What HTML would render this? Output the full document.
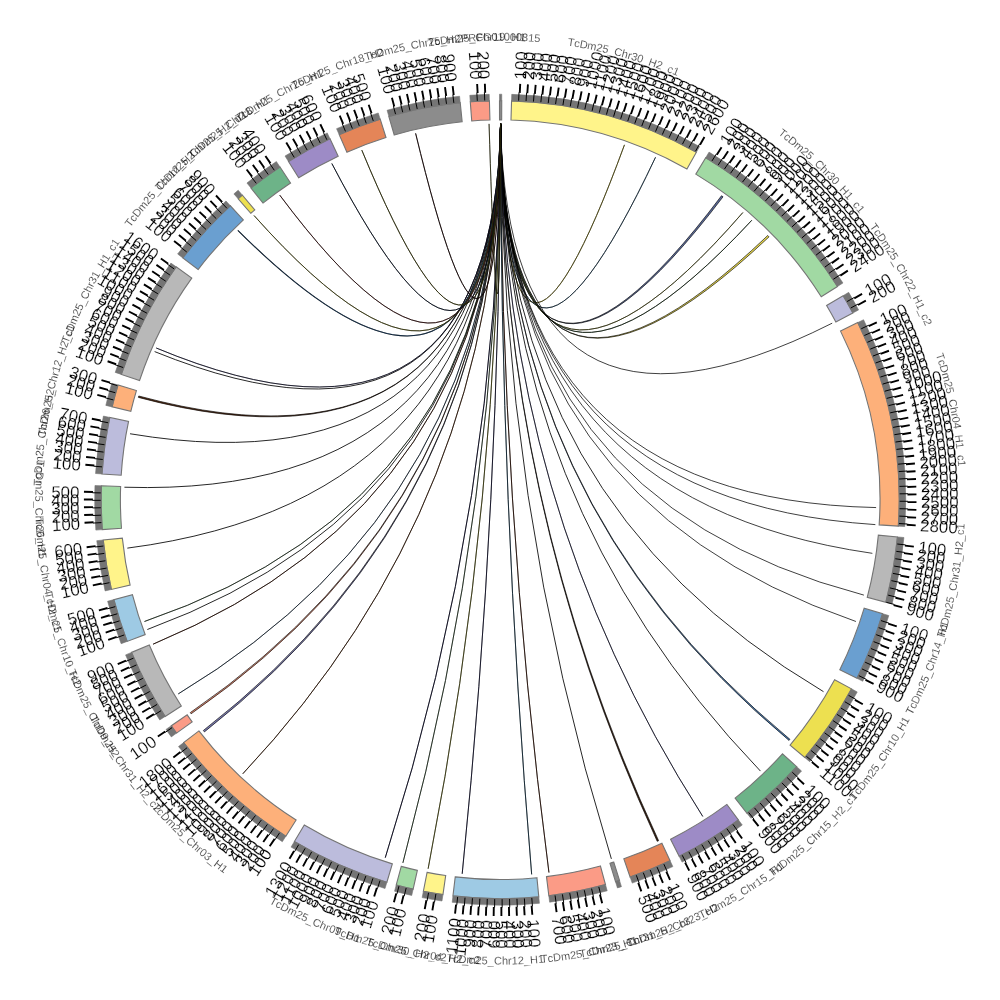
<!DOCTYPE html><html><head><meta charset="utf-8"><title>Circos plot</title><style>html,body{margin:0;padding:0;background:#fff}svg{display:block}.tl text{mix-blend-mode:multiply}</style></head><body><svg width="1000" height="1000" viewBox="0 0 1000 1000">
<rect width="1000" height="1000" fill="#fff"/>
<g fill="none" stroke-linecap="butt" stroke-linejoin="round">
<path d="M500.59 123.70Q505.10 470.95 624.47 144.83" stroke="#000" stroke-width="0.95"/>
<path d="M500.59 123.70Q505.10 470.95 624.47 144.83" stroke="#b5a82a" stroke-width="0.40"/>
<path d="M500.59 123.70Q505.64 474.59 655.53 157.28" stroke="#000" stroke-width="0.95"/>
<path d="M500.59 123.70Q505.64 474.59 655.53 157.28" stroke="#3d6a8a" stroke-width="0.40"/>
<path d="M500.59 123.70Q505.71 482.81 721.51 195.73L723.02 196.84Q505.69 483.01 500.59 123.70Z" fill="#5a6a9a" stroke="#000" stroke-width="0.65"/>
<path d="M500.59 123.70Q505.38 485.57 742.89 212.51" stroke="#000" stroke-width="0.95"/>
<path d="M500.59 123.70Q505.38 485.57 742.89 212.51" stroke="#8a8a3a" stroke-width="0.40"/>
<path d="M500.59 123.70Q505.62 485.60 751.79 220.28" stroke="#000" stroke-width="0.95"/>
<path d="M500.59 123.70Q505.62 485.60 751.79 220.28" stroke="#3a5a3a" stroke-width="0.40"/>
<path d="M500.59 123.70Q506.08 485.66 767.73 235.49L769.04 236.83Q506.11 485.66 500.59 123.70Z" fill="#e8d850" stroke="#000" stroke-width="0.65"/>
<path d="M500.59 123.70Q508.34 486.17 832.19 323.18" stroke="#000" stroke-width="0.75"/>
<path d="M500.59 123.70Q500.20 499.70 876.12 507.57" stroke="#000" stroke-width="0.75"/>
<path d="M500.59 123.70Q500.20 499.70 875.37 524.62" stroke="#000" stroke-width="0.75"/>
<path d="M500.59 123.70Q500.20 499.70 872.36 553.33" stroke="#000" stroke-width="0.75"/>
<path d="M500.59 123.70Q500.20 499.70 863.89 595.11" stroke="#000" stroke-width="0.75"/>
<path d="M500.59 123.70Q500.20 499.70 855.93 621.49" stroke="#000" stroke-width="0.75"/>
<path d="M500.59 123.70Q500.20 499.70 823.50 691.66" stroke="#000" stroke-width="0.85"/>
<path d="M500.59 123.70Q500.20 499.70 789.95 739.33L789.04 740.43Q500.20 499.70 500.59 123.70Z" fill="#4a7ab0" stroke="#000" stroke-width="0.65"/>
<path d="M500.59 123.70Q500.20 499.70 760.45 771.08" stroke="#000" stroke-width="0.85"/>
<path d="M500.59 123.70Q500.20 499.70 702.78 816.46" stroke="#000" stroke-width="0.85"/>
<path d="M500.59 123.70Q500.20 499.70 702.78 816.46" stroke="#1a1a4a" stroke-width="0.35"/>
<path d="M500.59 123.70Q500.20 499.70 658.61 840.70L657.21 841.35Q500.20 499.70 500.59 123.70Z" fill="#3a2010" stroke="#000" stroke-width="0.65"/>
<path d="M500.59 123.70Q500.20 499.70 611.39 858.88" stroke="#000" stroke-width="0.85"/>
<path d="M500.59 123.70Q500.20 499.70 548.95 872.53" stroke="#000" stroke-width="0.95"/>
<path d="M500.59 123.70Q500.20 499.70 548.95 872.53" stroke="#5a2a1a" stroke-width="0.40"/>
<path d="M500.59 123.70Q500.20 499.70 531.66 874.38" stroke="#000" stroke-width="0.95"/>
<path d="M500.59 123.70Q500.20 499.70 531.66 874.38" stroke="#2a5a7a" stroke-width="0.40"/>
<path d="M500.59 123.70Q500.20 499.70 462.20 873.78" stroke="#000" stroke-width="0.95"/>
<path d="M500.59 123.70Q500.20 499.70 462.20 873.78" stroke="#2a2a5a" stroke-width="0.40"/>
<path d="M500.59 123.70Q500.20 499.70 428.13 868.73" stroke="#000" stroke-width="0.95"/>
<path d="M500.59 123.70Q500.20 499.70 428.13 868.73" stroke="#8a8a2a" stroke-width="0.40"/>
<path d="M500.59 123.70Q500.20 499.70 402.88 862.89" stroke="#000" stroke-width="0.85"/>
<path d="M500.59 123.70Q500.20 499.70 402.88 862.89" stroke="#2a4a2a" stroke-width="0.35"/>
<path d="M500.59 123.70Q500.20 499.70 385.26 857.70" stroke="#000" stroke-width="0.95"/>
<path d="M500.59 123.70Q500.20 499.70 385.26 857.70" stroke="#1a1a4a" stroke-width="0.40"/>
<path d="M500.59 123.70Q500.20 499.70 242.81 773.79" stroke="#000" stroke-width="0.95"/>
<path d="M500.59 123.70Q500.20 499.70 242.81 773.79" stroke="#6a3a1a" stroke-width="0.40"/>
<path d="M500.59 123.70Q500.20 499.70 204.45 731.88L203.37 730.49Q500.20 499.70 500.59 123.70Z" fill="#7a7ab0" stroke="#000" stroke-width="0.65"/>
<path d="M500.59 123.70Q500.20 499.70 191.11 713.80L190.30 712.62Q500.20 499.70 500.59 123.70Z" fill="#e08a70" stroke="#000" stroke-width="0.65"/>
<path d="M500.59 123.70Q500.20 499.70 178.24 693.92" stroke="#000" stroke-width="0.85"/>
<path d="M500.59 123.70Q500.20 499.70 178.24 693.92" stroke="#1a3a5a" stroke-width="0.35"/>
<path d="M500.59 123.70Q500.20 499.70 153.07 644.20" stroke="#000" stroke-width="0.95"/>
<path d="M500.59 123.70Q500.20 499.70 153.07 644.20" stroke="#5a2a1a" stroke-width="0.40"/>
<path d="M500.59 123.70Q500.20 499.70 147.33 629.53" stroke="#000" stroke-width="0.85"/>
<path d="M500.59 123.70Q500.20 499.70 144.47 621.49" stroke="#000" stroke-width="0.85"/>
<path d="M500.59 123.70Q500.20 499.70 144.47 621.49" stroke="#2a4a2a" stroke-width="0.35"/>
<path d="M500.59 123.70Q500.20 499.70 127.33 548.13" stroke="#000" stroke-width="0.85"/>
<path d="M500.59 123.70Q499.13 498.59 124.41 487.23" stroke="#000" stroke-width="0.85"/>
<path d="M500.59 123.70Q496.34 495.09 130.03 433.76" stroke="#000" stroke-width="0.85"/>
<path d="M500.59 123.70Q494.71 492.43 138.39 397.38L138.78 396.00Q494.65 492.33 500.59 123.70Z" fill="#5a3018" stroke="#000" stroke-width="0.65"/>
<path d="M500.59 123.70Q492.97 488.72 154.61 351.58" stroke="#000" stroke-width="0.85"/>
<path d="M500.59 123.70Q492.85 488.41 156.18 347.97" stroke="#000" stroke-width="0.85"/>
<path d="M500.59 123.70Q492.85 488.41 156.18 347.97" stroke="#1a1a4a" stroke-width="0.35"/>
<path d="M500.59 123.70Q494.49 485.63 237.83 230.37" stroke="#000" stroke-width="1.05"/>
<path d="M500.59 123.70Q494.49 485.63 237.83 230.37" stroke="#2a5a8a" stroke-width="0.50"/>
<path d="M500.59 123.70Q494.94 485.57 254.02 215.50" stroke="#000" stroke-width="0.95"/>
<path d="M500.59 123.70Q494.94 485.57 254.02 215.50" stroke="#8a8a2a" stroke-width="0.40"/>
<path d="M500.59 123.70Q494.73 482.77 279.72 195.12" stroke="#000" stroke-width="0.95"/>
<path d="M500.59 123.70Q494.73 482.77 279.72 195.12" stroke="#6a2a2a" stroke-width="0.40"/>
<path d="M500.59 123.70Q494.66 476.23 331.84 163.50" stroke="#000" stroke-width="0.95"/>
<path d="M500.59 123.70Q494.66 476.23 331.84 163.50" stroke="#1a2a4a" stroke-width="0.40"/>
<path d="M500.59 123.70Q495.06 472.67 361.79 150.10" stroke="#000" stroke-width="0.95"/>
<path d="M500.59 123.70Q495.06 472.67 361.79 150.10" stroke="#6a6a1a" stroke-width="0.40"/>
<path d="M500.59 123.70Q496.66 468.46 415.62 133.34" stroke="#000" stroke-width="0.95"/>
<path d="M500.59 123.70Q496.66 468.46 415.62 133.34" stroke="#2a0a0a" stroke-width="0.40"/>
<path d="M500.59 123.70Q499.69 464.23 489.05 123.87" stroke="#000" stroke-width="0.85"/>
<path d="M500.59 123.70Q499.69 464.23 489.05 123.87" stroke="#5a5a1a" stroke-width="0.35"/>
</g>
<g stroke="#747474" stroke-width="1.1" stroke-linejoin="miter">
<path d="M499.50 100.70A399.0 399.0 0 0 1 501.73 100.70L501.66 119.90A379.8 379.8 0 0 0 499.54 119.90Z" fill="#8c8c8c"/>
<path d="M511.55 100.86A399.0 399.0 0 0 1 696.37 152.26L686.93 168.98A379.8 379.8 0 0 0 511.00 120.05Z" fill="#fff48a"/>
<path d="M705.70 157.69A399.0 399.0 0 0 1 837.46 286.49L821.23 296.75A379.8 379.8 0 0 0 695.81 174.15Z" fill="#a1d9a3"/>
<path d="M843.10 295.69A399.0 399.0 0 0 1 852.82 313.00L835.85 321.98A379.8 379.8 0 0 0 826.60 305.51Z" fill="#bcbcdc"/>
<path d="M857.74 322.60A399.0 399.0 0 0 1 898.32 526.14L879.16 524.87A379.8 379.8 0 0 0 840.54 331.12Z" fill="#fdb07a"/>
<path d="M897.46 536.90A399.0 399.0 0 0 1 885.78 602.30L867.23 597.36A379.8 379.8 0 0 0 878.35 535.11Z" fill="#b8b8b8"/>
<path d="M882.57 613.69A399.0 399.0 0 0 1 856.97 678.36L839.80 669.76A379.8 379.8 0 0 0 864.17 608.20Z" fill="#6a9fd0"/>
<path d="M851.51 688.86A399.0 399.0 0 0 1 804.73 757.50L790.08 745.10A379.8 379.8 0 0 0 834.61 679.76Z" fill="#ede050"/>
<path d="M796.71 766.68A399.0 399.0 0 0 1 746.94 813.26L735.07 798.17A379.8 379.8 0 0 0 782.45 753.84Z" fill="#6db388"/>
<path d="M738.37 819.82A399.0 399.0 0 0 1 679.17 856.31L670.56 839.15A379.8 379.8 0 0 0 726.91 804.41Z" fill="#9d8bc6"/>
<path d="M670.09 860.73A399.0 399.0 0 0 1 630.10 876.96L623.85 858.81A379.8 379.8 0 0 0 661.91 843.35Z" fill="#e48558"/>
<path d="M619.52 880.44A399.0 399.0 0 0 1 615.52 881.67L609.97 863.29A379.8 379.8 0 0 0 613.78 862.12Z" fill="#8c8c8c"/>
<path d="M605.49 884.56A399.0 399.0 0 0 1 548.83 895.73L546.49 876.67A379.8 379.8 0 0 0 600.42 866.04Z" fill="#fb9b86"/>
<path d="M538.79 896.83A399.0 399.0 0 0 1 452.96 895.89L455.23 876.83A379.8 379.8 0 0 0 536.93 877.72Z" fill="#9ecae4"/>
<path d="M442.95 894.57A399.0 399.0 0 0 1 423.38 891.24L427.08 872.39A379.8 379.8 0 0 0 445.70 875.57Z" fill="#fff48a"/>
<path d="M413.16 889.09A399.0 399.0 0 0 1 396.26 884.92L401.26 866.39A379.8 379.8 0 0 0 417.35 870.35Z" fill="#a1d9a3"/>
<path d="M386.88 882.27A399.0 399.0 0 0 1 294.40 841.53L304.30 825.08A379.8 379.8 0 0 0 392.33 863.86Z" fill="#bcbcdc"/>
<path d="M285.82 836.21A399.0 399.0 0 0 1 183.65 742.60L198.88 730.91A379.8 379.8 0 0 0 296.13 820.02Z" fill="#fdb07a"/>
<path d="M176.59 733.10A399.0 399.0 0 0 1 171.37 725.70L187.20 714.82A379.8 379.8 0 0 0 192.16 721.87Z" fill="#fb9b86"/>
<path d="M165.19 716.43A399.0 399.0 0 0 1 131.57 652.39L149.31 645.04A379.8 379.8 0 0 0 181.31 706.00Z" fill="#b8b8b8"/>
<path d="M127.20 641.39A399.0 399.0 0 0 1 113.91 599.60L132.50 594.79A379.8 379.8 0 0 0 145.15 634.57Z" fill="#9ecae4"/>
<path d="M111.43 589.46A399.0 399.0 0 0 1 103.24 540.02L122.34 538.08A379.8 379.8 0 0 0 130.13 585.14Z" fill="#fff48a"/>
<path d="M102.32 529.62A399.0 399.0 0 0 1 101.44 485.78L120.63 486.45A379.8 379.8 0 0 0 121.47 528.18Z" fill="#a1d9a3"/>
<path d="M102.03 473.95A399.0 399.0 0 0 1 109.77 417.42L128.56 421.38A379.8 379.8 0 0 0 121.19 475.19Z" fill="#bcbcdc"/>
<path d="M112.14 406.89A399.0 399.0 0 0 1 118.03 385.04L136.42 390.56A379.8 379.8 0 0 0 130.82 411.36Z" fill="#fdb07a"/>
<path d="M121.38 374.42A399.0 399.0 0 0 1 176.18 266.87L191.77 278.07A379.8 379.8 0 0 0 139.61 380.45Z" fill="#b8b8b8"/>
<path d="M182.81 257.91A399.0 399.0 0 0 1 230.38 205.76L243.37 219.91A379.8 379.8 0 0 0 198.08 269.55Z" fill="#6a9fd0"/>
<path d="M238.17 198.80A399.0 399.0 0 0 1 242.40 195.17L254.80 209.82A379.8 379.8 0 0 0 250.78 213.28Z" fill="#ede050"/>
<path d="M251.00 188.09A399.0 399.0 0 0 1 279.98 166.98L290.57 182.99A379.8 379.8 0 0 0 262.99 203.09Z" fill="#6db388"/>
<path d="M288.47 161.51A399.0 399.0 0 0 1 330.00 138.82L338.19 156.19A379.8 379.8 0 0 0 298.66 177.79Z" fill="#9d8bc6"/>
<path d="M339.19 134.63A399.0 399.0 0 0 1 380.22 119.17L385.99 137.48A379.8 379.8 0 0 0 346.93 152.20Z" fill="#e48558"/>
<path d="M388.88 116.54A399.0 399.0 0 0 1 460.22 102.71L462.15 121.81A379.8 379.8 0 0 0 394.24 134.98Z" fill="#8c8c8c"/>
<path d="M470.28 101.82A399.0 399.0 0 0 1 489.41 100.85L489.93 120.04A379.8 379.8 0 0 0 471.72 120.97Z" fill="#fb9b86"/>
</g>
<g fill="#757575" stroke="#757575" stroke-width="0.6">
<path d="M499.49 94.20A405.5 405.5 0 0 1 501.76 94.20L501.73 100.70A399.0 399.0 0 0 0 499.50 100.70Z"/>
<path d="M511.73 94.36A405.5 405.5 0 0 1 699.57 146.60L696.37 152.26A399.0 399.0 0 0 0 511.55 100.86Z"/>
<path d="M709.05 152.12A405.5 405.5 0 0 1 842.95 283.02L837.46 286.49A399.0 399.0 0 0 0 705.70 157.69Z"/>
<path d="M848.69 292.37A405.5 405.5 0 0 1 858.57 309.95L852.82 313.00A399.0 399.0 0 0 0 843.10 295.69Z"/>
<path d="M863.57 319.72A405.5 405.5 0 0 1 904.81 526.57L898.32 526.14A399.0 399.0 0 0 0 857.74 322.60Z"/>
<path d="M903.93 537.51A405.5 405.5 0 0 1 892.07 603.97L885.78 602.30A399.0 399.0 0 0 0 897.46 536.90Z"/>
<path d="M888.80 615.55A405.5 405.5 0 0 1 862.78 681.27L856.97 678.36A399.0 399.0 0 0 0 882.57 613.69Z"/>
<path d="M857.23 691.94A405.5 405.5 0 0 1 809.69 761.70L804.73 757.50A399.0 399.0 0 0 0 851.51 688.86Z"/>
<path d="M801.55 771.03A405.5 405.5 0 0 1 750.96 818.36L746.94 813.26A399.0 399.0 0 0 0 796.71 766.68Z"/>
<path d="M742.25 825.03A405.5 405.5 0 0 1 682.08 862.12L679.17 856.31A399.0 399.0 0 0 0 738.37 819.82Z"/>
<path d="M672.85 866.61A405.5 405.5 0 0 1 632.22 883.11L630.10 876.96A399.0 399.0 0 0 0 670.09 860.73Z"/>
<path d="M621.46 886.64A405.5 405.5 0 0 1 617.40 887.89L615.52 881.67A399.0 399.0 0 0 0 619.52 880.44Z"/>
<path d="M607.20 890.83A405.5 405.5 0 0 1 549.62 902.18L548.83 895.73A399.0 399.0 0 0 0 605.49 884.56Z"/>
<path d="M539.42 903.30A405.5 405.5 0 0 1 452.19 902.35L452.96 895.89A399.0 399.0 0 0 0 538.79 896.83Z"/>
<path d="M442.01 901.00A405.5 405.5 0 0 1 422.13 897.61L423.38 891.24A399.0 399.0 0 0 0 442.95 894.57Z"/>
<path d="M411.74 895.43A405.5 405.5 0 0 1 394.57 891.20L396.26 884.92A399.0 399.0 0 0 0 413.16 889.09Z"/>
<path d="M385.03 888.50A405.5 405.5 0 0 1 291.05 847.10L294.40 841.53A399.0 399.0 0 0 0 386.88 882.27Z"/>
<path d="M282.33 841.70A405.5 405.5 0 0 1 178.50 746.55L183.65 742.60A399.0 399.0 0 0 0 285.82 836.21Z"/>
<path d="M171.31 736.90A405.5 405.5 0 0 1 166.02 729.38L171.37 725.70A399.0 399.0 0 0 0 176.59 733.10Z"/>
<path d="M159.73 719.96A405.5 405.5 0 0 1 125.57 654.88L131.57 652.39A399.0 399.0 0 0 0 165.19 716.43Z"/>
<path d="M121.13 643.70A405.5 405.5 0 0 1 107.62 601.23L113.91 599.60A399.0 399.0 0 0 0 127.20 641.39Z"/>
<path d="M105.09 590.92A405.5 405.5 0 0 1 96.78 540.68L103.24 540.02A399.0 399.0 0 0 0 111.43 589.46Z"/>
<path d="M95.84 530.10A405.5 405.5 0 0 1 94.95 485.55L101.44 485.78A399.0 399.0 0 0 0 102.32 529.62Z"/>
<path d="M95.55 473.53A405.5 405.5 0 0 1 103.41 416.08L109.77 417.42A399.0 399.0 0 0 0 102.03 473.95Z"/>
<path d="M105.82 405.38A405.5 405.5 0 0 1 111.80 383.18L118.03 385.04A399.0 399.0 0 0 0 112.14 406.89Z"/>
<path d="M115.21 372.38A405.5 405.5 0 0 1 170.90 263.07L176.18 266.87A399.0 399.0 0 0 0 121.38 374.42Z"/>
<path d="M177.64 253.97A405.5 405.5 0 0 1 225.99 200.97L230.38 205.76A399.0 399.0 0 0 0 182.81 257.91Z"/>
<path d="M233.90 193.90A405.5 405.5 0 0 1 238.20 190.21L242.40 195.17A399.0 399.0 0 0 0 238.17 198.80Z"/>
<path d="M246.94 183.01A405.5 405.5 0 0 1 276.39 161.56L279.98 166.98A399.0 399.0 0 0 0 251.00 188.09Z"/>
<path d="M285.02 156.00A405.5 405.5 0 0 1 327.23 132.94L330.00 138.82A399.0 399.0 0 0 0 288.47 161.51Z"/>
<path d="M336.56 128.68A405.5 405.5 0 0 1 378.26 112.97L380.22 119.17A399.0 399.0 0 0 0 339.19 134.63Z"/>
<path d="M387.07 110.30A405.5 405.5 0 0 1 459.57 96.24L460.22 102.71A399.0 399.0 0 0 0 388.88 116.54Z"/>
<path d="M469.80 95.34A405.5 405.5 0 0 1 489.23 94.35L489.41 100.85A399.0 399.0 0 0 0 470.28 101.82Z"/>
</g>
<path d="M518.64 100.63L519.02 92.33M526.05 101.04L526.59 92.75M533.46 101.59L534.15 93.32M540.85 102.27L541.69 94.02M548.23 103.10L549.23 94.86M555.59 104.06L556.74 95.84M562.94 105.16L564.24 96.96M570.26 106.39L571.71 98.22M577.56 107.76L579.16 99.62M584.83 109.27L586.59 101.15M592.07 110.91L593.98 102.83M599.28 112.68L601.34 104.64M606.46 114.59L608.67 106.59M613.60 116.63L615.95 108.67M620.70 118.81L623.20 110.89M627.76 121.11L630.41 113.25M634.77 123.55L637.57 115.73M641.74 126.11L644.68 118.35M648.66 128.81L651.74 121.10M655.53 131.63L658.75 123.99M662.34 134.58L665.71 127.00M669.10 137.66L672.61 130.14M675.80 140.86L679.45 133.41M682.44 144.19L686.22 136.80M689.01 147.64L692.94 140.32M695.53 151.21L699.58 143.97M711.99 160.96L716.39 153.92M718.25 164.96L722.78 158.00M724.44 169.07L729.09 162.20M730.54 173.29L735.33 166.51M736.57 177.63L741.48 170.94M742.51 182.08L747.55 175.48M748.38 186.64L753.53 180.13M754.15 191.30L759.43 184.90M759.84 196.08L765.23 189.77M765.44 200.95L770.95 194.75M770.95 205.94L776.57 199.83M776.36 211.02L782.10 205.02M781.68 216.20L787.52 210.31M786.90 221.48L792.85 215.70M792.02 226.86L798.08 221.19M797.04 232.33L803.21 226.78M801.96 237.89L808.23 232.45M806.77 243.55L813.14 238.23M811.48 249.29L817.95 244.09M816.08 255.12L822.64 250.04M820.57 261.03L827.23 256.07M824.95 267.03L831.70 262.19M829.22 273.10L836.06 268.40M833.38 279.26L840.30 274.68M847.10 301.55L854.30 297.44M850.72 308.03L858.00 304.05M861.28 328.75L868.78 325.20M864.39 335.49L871.96 332.08M867.38 342.29L875.01 339.02M870.24 349.14L877.93 346.01M872.98 356.04L880.72 353.06M875.58 363.00L883.38 360.16M878.06 370.00L885.91 367.30M880.40 377.04L888.30 374.50M882.62 384.13L890.56 381.73M884.70 391.26L892.69 389.01M886.65 398.42L894.68 396.32M888.47 405.63L896.53 403.67M890.15 412.86L898.25 411.05M891.69 420.12L899.83 418.47M893.11 427.41L901.27 425.91M894.38 434.73L902.57 433.38M895.52 442.06L903.73 440.87M896.52 449.42L904.76 448.38M897.39 456.80L905.64 455.91M898.12 464.19L906.39 463.45M898.71 471.59L906.99 471.00M899.16 479.00L907.45 478.57M899.48 486.42L907.77 486.14M899.66 493.84L907.96 493.72M899.70 501.27L908.00 501.30M899.60 508.69L907.90 508.88M899.36 516.12L907.66 516.46M898.99 523.53L907.27 524.03M897.24 543.99L905.49 544.91M896.35 551.36L904.58 552.43M895.32 558.72L903.53 559.94M894.15 566.05L902.34 567.43M892.85 573.36L901.01 574.89M891.41 580.65L899.54 582.33M889.84 587.90L897.94 589.74M888.13 595.13L896.19 597.11M886.29 602.32L894.32 604.46M880.97 620.60L888.88 623.11M878.66 627.65L886.52 630.31M876.21 634.66L884.02 637.47M873.64 641.63L881.40 644.58M870.94 648.55L878.64 651.64M868.10 655.41L875.75 658.65M865.15 662.22L872.73 665.60M862.06 668.98L869.58 672.50M858.85 675.67L866.31 679.33M848.54 695.30L855.78 699.36M844.84 701.74L852.01 705.94M841.03 708.11L848.11 712.44M837.10 714.41L844.10 718.87M833.05 720.63L839.96 725.22M828.88 726.78L835.71 731.50M824.61 732.85L831.35 737.70M820.22 738.84L826.87 743.81M815.72 744.75L822.27 749.84M811.11 750.57L817.57 755.78M806.39 756.31L812.75 761.64M792.30 772.23L798.37 777.90M787.19 777.62L793.15 783.39M781.97 782.90L787.83 788.79M776.66 788.09L782.40 794.08M771.25 793.18L776.88 799.28M765.75 798.17L771.27 804.37M760.16 803.05L765.56 809.35M754.47 807.83L759.76 814.23M748.70 812.50L753.87 819.00M732.96 824.39L737.79 831.14M726.88 828.66L731.59 835.50M720.73 832.82L725.31 839.74M714.50 836.86L718.95 843.86M708.19 840.78L712.52 847.87M701.82 844.59L706.01 851.76M695.37 848.28L699.43 855.52M688.86 851.85L692.78 859.16M682.28 855.29L686.07 862.68M663.87 864.13L667.27 871.71M657.07 867.11L660.33 874.75M650.21 869.97L653.33 877.66M643.30 872.69L646.28 880.44M636.35 875.29L639.17 883.09M598.77 886.85L600.82 894.89M591.56 888.61L593.46 896.69M584.32 890.24L586.07 898.36M577.04 891.74L578.64 899.88M569.74 893.10L571.19 901.27M562.42 894.33L563.71 902.52M555.07 895.41L556.21 903.63M531.79 897.95L532.44 906.22M524.38 898.47L524.88 906.75M516.96 898.85L517.31 907.14M509.54 899.09L509.74 907.39M502.12 899.20L502.16 907.50M494.69 899.16L494.58 907.46M487.27 898.99L487.00 907.29M479.85 898.68L479.43 906.97M472.44 898.23L471.86 906.51M465.03 897.65L464.30 905.92M457.64 896.93L456.76 905.18M435.88 893.99L434.54 902.18M428.56 892.72L427.07 900.89M406.16 887.97L404.21 896.04M398.96 886.16L396.86 894.19M379.97 880.68L377.47 888.59M372.91 878.38L370.26 886.25M365.89 875.95L363.10 883.76M358.92 873.39L355.99 881.15M352.00 870.69L348.92 878.40M345.13 867.88L341.91 875.53M338.31 864.93L334.95 872.52M331.55 861.86L328.05 869.38M324.85 858.66L321.21 866.12M318.21 855.34L314.43 862.73M311.63 851.90L307.71 859.21M305.12 848.33L301.06 855.57M298.67 844.64L294.48 851.81M279.61 832.78L275.03 839.70M273.46 828.62L268.75 835.46M267.39 824.35L262.55 831.10M261.39 819.97L256.43 826.62M255.48 815.47L250.40 822.03M249.65 810.87L244.45 817.34M243.91 806.16L238.59 812.53M238.26 801.34L232.82 807.61M232.70 796.42L227.14 802.59M227.23 791.40L221.56 797.46M221.86 786.28L216.07 792.23M216.58 781.05L210.69 786.90M211.40 775.73L205.40 781.47M206.32 770.32L200.21 775.94M201.34 764.81L195.13 770.32M196.46 759.21L190.15 764.60M191.69 753.52L185.28 758.79M187.03 747.74L180.52 752.89M172.09 727.61L165.27 732.35M160.98 710.72L153.93 715.11M157.12 704.38L149.99 708.63M153.37 697.97L146.17 702.09M149.75 691.49L142.47 695.47M146.24 684.94L138.89 688.79M142.86 678.33L135.44 682.04M139.60 671.66L132.11 675.23M136.47 664.93L128.91 668.36M133.46 658.14L125.84 661.43M124.28 634.93L116.47 637.74M121.83 627.92L113.97 630.58M119.52 620.86L111.61 623.38M117.33 613.77L109.38 616.14M115.28 606.63L107.28 608.85M109.41 582.66L101.29 584.38M107.93 575.38L99.78 576.95M106.59 568.08L98.42 569.50M105.39 560.75L97.19 562.02M104.33 553.40L96.10 554.52M103.40 546.03L95.15 547.00M101.36 522.59L93.07 523.07M101.00 515.18L92.71 515.50M100.78 507.75L92.48 507.92M100.70 500.33L92.40 500.34M100.76 492.90L92.46 492.76M102.05 466.86L93.78 466.18M102.73 459.47L94.47 458.63M103.55 452.09L95.31 451.10M104.50 444.72L96.28 443.58M105.59 437.38L97.39 436.08M106.82 430.05L98.64 428.61M108.18 422.75L100.04 421.15M113.36 399.91L105.33 397.84M115.29 392.74L107.29 390.51M117.34 385.60L109.39 383.23M123.19 367.56L115.35 364.82M125.71 360.58L117.93 357.69M128.36 353.64L120.63 350.61M131.14 346.75L123.47 343.58M134.04 339.92L126.44 336.60M137.08 333.14L129.53 329.68M140.23 326.42L132.76 322.82M143.52 319.76L136.11 316.02M146.92 313.16L139.58 309.29M150.45 306.63L143.19 302.62M154.10 300.16L146.91 296.02M157.87 293.76L150.76 289.48M161.76 287.44L154.72 283.03M165.76 281.18L158.81 276.64M169.88 275.00L163.02 270.34M174.11 268.90L167.34 264.11M186.75 252.02L180.23 246.87M191.40 246.23L184.99 240.97M196.17 240.54L189.85 235.15M201.04 234.93L194.82 229.43M206.01 229.42L199.90 223.80M211.09 224.00L205.08 218.27M216.26 218.67L210.36 212.83M221.53 213.44L215.74 207.49M226.90 208.31L221.22 202.26M256.25 183.33L251.19 176.76M262.18 178.85L257.23 172.18M268.18 174.48L263.36 167.72M274.27 170.22L269.57 163.38M294.23 157.39L289.95 150.28M300.63 153.62L296.48 146.43M307.10 149.97L303.09 142.70M313.63 146.44L309.76 139.10M320.23 143.03L316.49 135.62M326.89 139.75L323.29 132.27M345.48 131.38L342.27 123.72M352.36 128.56L349.29 120.85M359.28 125.88L356.35 118.11M366.25 123.32L363.47 115.51M373.27 120.90L370.63 113.03M395.56 114.15L393.38 106.14M402.74 112.27L400.72 104.22M409.96 110.53L408.08 102.44M417.21 108.92L415.48 100.80M424.49 107.44L422.91 99.29M431.79 106.10L430.37 97.92M439.12 104.90L437.85 96.70M446.47 103.83L445.35 95.61M453.83 102.90L452.87 94.66M477.31 100.86L476.83 92.57M484.72 100.50L484.40 92.21" stroke="#000" stroke-width="1.0" fill="none"/>
<path d="M519.78 92.87L520.21 83.88M527.34 93.30L527.93 84.32M534.88 93.88L535.65 84.91M542.42 94.59L543.35 85.64M549.94 95.45L551.04 86.52M557.45 96.44L558.71 87.53M564.93 97.58L566.36 88.69M572.40 98.85L573.99 89.99M579.83 100.26L581.59 91.43M587.25 101.81L589.17 93.02M594.63 103.50L596.71 94.74M601.97 105.32L604.22 96.61M609.29 107.28L611.70 98.61M616.56 109.38L619.13 100.75M623.80 111.61L626.53 103.03M630.99 113.97L633.88 105.45M638.13 116.47L641.18 108.00M645.23 119.10L648.44 110.69M652.28 121.86L655.64 113.51M659.28 124.75L662.79 116.47M666.22 127.77L669.89 119.55M673.11 130.92L676.93 122.77M679.93 134.20L683.90 126.12M686.69 137.60L690.81 129.60M693.39 141.13L697.66 133.21M700.02 144.78L704.44 136.94M716.79 154.76L721.58 147.14M723.16 158.85L728.09 151.32M729.46 163.05L734.53 155.61M735.68 167.37L740.88 160.03M741.81 171.80L747.15 164.56M747.87 176.35L753.34 169.21M753.83 181.01L759.44 173.97M759.71 185.78L765.45 178.84M765.50 190.66L771.37 183.83M771.20 195.64L777.19 188.92M776.81 200.73L782.92 194.12M782.32 205.92L788.55 199.43M787.73 211.22L794.08 204.84M793.04 216.61L799.51 210.36M798.25 222.10L804.84 215.97M803.36 227.69L810.06 221.68M808.36 233.37L815.17 227.49M813.26 239.15L820.18 233.39M818.05 245.01L825.07 239.38M822.73 250.96L829.85 245.47M827.29 257.00L834.52 251.64M831.75 263.12L839.07 257.89M836.09 269.33L843.51 264.23M840.31 275.61L847.83 270.66M854.26 298.36L862.08 293.91M857.94 304.98L865.84 300.68M868.66 326.12L876.80 322.28M871.82 333.00L880.03 329.31M874.86 339.93L883.14 336.40M877.76 346.93L886.10 343.55M880.54 353.97L888.94 350.75M883.18 361.06L891.64 358.00M885.69 368.21L894.21 365.30M888.07 375.39L896.64 372.65M890.31 382.62L898.93 380.04M892.42 389.90L901.09 387.47M894.39 397.20L903.10 394.94M896.23 404.55L904.98 402.45M897.93 411.93L906.72 409.99M899.49 419.33L908.32 417.56M900.92 426.77L909.77 425.16M902.20 434.23L911.09 432.78M903.35 441.71L912.26 440.43M904.36 449.22L913.29 448.10M905.23 456.74L914.18 455.79M905.96 464.27L914.92 463.49M906.54 471.82L915.52 471.20M906.99 479.38L915.98 478.93M907.30 486.94L916.30 486.66M907.47 494.51L916.47 494.40M907.49 502.08L916.49 502.13M907.38 509.65L916.38 509.87M907.12 517.22L916.11 517.60M906.73 524.78L915.71 525.33M904.90 545.63L913.84 546.65M903.98 553.15L912.90 554.33M902.92 560.64L911.81 561.99M901.71 568.12L910.59 569.63M900.37 575.57L909.21 577.24M898.89 582.99L907.70 584.83M897.28 590.39L906.05 592.39M895.52 597.75L904.26 599.92M893.63 605.08L902.32 607.41M888.16 623.70L896.74 626.44M885.79 630.89L894.31 633.79M883.29 638.04L891.75 641.09M880.65 645.13L889.06 648.35M877.88 652.18L886.23 655.55M874.98 659.17L883.26 662.70M871.95 666.11L880.17 669.79M868.80 672.99L876.94 676.82M865.51 679.81L873.58 683.79M854.96 699.80L862.80 704.22M851.18 706.36L858.93 710.93M847.28 712.85L854.95 717.56M843.25 719.26L850.83 724.11M839.11 725.60L846.60 730.59M834.86 731.86L842.25 736.99M830.48 738.04L837.78 743.31M826.00 744.14L833.20 749.54M821.40 750.15L828.49 755.68M816.69 756.08L823.68 761.74M811.87 761.92L818.75 767.71M797.47 778.13L804.04 784.28M792.25 783.60L798.70 789.88M786.92 788.98L793.26 795.38M781.49 794.26L787.71 800.77M775.97 799.44L782.06 806.06M770.35 804.51L776.32 811.25M764.64 809.48L770.48 816.33M758.84 814.34L764.55 821.30M752.94 819.10L758.53 826.15M736.86 831.19L742.09 838.51M730.66 835.53L735.76 842.95M724.38 839.75L729.33 847.27M718.02 843.86L722.84 851.47M711.59 847.85L716.26 855.54M705.08 851.72L709.61 859.50M698.50 855.47L702.88 863.33M691.85 859.09L696.09 867.03M685.14 862.59L689.23 870.61M666.35 871.57L670.02 879.79M659.41 874.59L662.93 882.88M652.41 877.49L655.78 885.84M645.37 880.25L648.57 888.66M638.27 882.88L641.32 891.35M599.94 894.60L602.15 903.32M592.58 896.38L594.63 905.15M585.20 898.03L587.07 906.83M577.78 899.54L579.49 908.38M570.33 900.92L571.88 909.78M562.86 902.15L564.25 911.04M555.37 903.25L556.59 912.16M531.62 905.79L532.32 914.76M524.07 906.30L524.60 915.28M516.51 906.67L516.87 915.67M508.94 906.91L509.14 915.90M501.37 907.00L501.40 916.00M493.80 906.95L493.66 915.95M486.23 906.76L485.93 915.76M478.67 906.43L478.19 915.42M471.11 905.96L470.47 914.94M463.57 905.35L462.76 914.31M456.04 904.60L455.06 913.55M433.85 901.56L432.39 910.44M426.39 900.26L424.76 909.11M403.56 895.37L401.43 904.11M396.23 893.51L393.93 902.21M376.88 887.88L374.15 896.46M369.68 885.52L366.80 894.05M362.53 883.03L359.49 891.50M355.43 880.40L352.23 888.82M348.38 877.65L345.03 886.00M341.38 874.76L337.87 883.05M334.44 871.74L330.78 879.96M327.55 868.60L323.74 876.75M320.73 865.33L316.76 873.40M313.96 861.93L309.85 869.93M307.26 858.40L303.00 866.33M300.63 854.75L296.22 862.60M294.06 850.98L289.51 858.75M274.66 838.85L269.67 846.34M268.39 834.60L263.27 842.00M262.21 830.23L256.95 837.54M256.10 825.75L250.71 832.96M250.09 821.16L244.56 828.26M244.15 816.46L238.50 823.45M238.31 811.64L232.52 818.53M232.56 806.72L226.64 813.50M226.90 801.69L220.86 808.37M221.33 796.56L215.17 803.12M215.86 791.33L209.58 797.77M210.49 785.99L204.09 792.32M205.22 780.56L198.70 786.76M200.05 775.03L193.42 781.11M194.99 769.40L188.24 775.36M190.03 763.68L183.17 769.51M185.17 757.87L178.21 763.57M180.43 751.97L173.36 757.54M165.24 731.42L157.84 736.54M153.95 714.18L146.29 718.92M150.02 707.71L142.28 712.30M146.21 701.16L138.39 705.61M142.53 694.55L134.63 698.85M138.97 687.86L130.99 692.02M135.53 681.12L127.48 685.13M132.23 674.31L124.09 678.17M129.04 667.44L120.84 671.15M125.99 660.51L117.72 664.07M116.68 636.83L108.20 639.86M114.20 629.68L105.67 632.55M111.85 622.48L103.27 625.20M109.63 615.24L101.00 617.80M107.55 607.96L98.88 610.36M101.62 583.51L92.81 585.37M100.13 576.09L91.29 577.78M98.78 568.64L89.91 570.16M97.56 561.17L88.67 562.53M96.49 553.67L87.57 554.87M95.56 546.16L86.62 547.19M93.53 522.26L84.54 522.76M93.18 514.70L84.18 515.03M92.97 507.13L83.97 507.29M92.90 499.56L83.90 499.55M92.97 491.99L83.97 491.82M94.34 465.44L85.38 464.68M95.05 457.90L86.10 456.98M95.90 450.38L86.96 449.29M96.88 442.87L87.97 441.62M98.01 435.39L89.12 433.97M99.27 427.92L90.42 426.34M100.68 420.48L91.85 418.73M106.01 397.20L97.30 394.94M107.98 389.90L99.31 387.47M110.09 382.62L101.47 380.04M116.08 364.24L107.60 361.25M118.67 357.13L110.24 353.98M121.38 350.06L113.01 346.75M124.23 343.05L115.92 339.58M127.21 336.08L118.97 332.47M130.31 329.18L122.14 325.41M133.55 322.33L125.44 318.42M136.91 315.55L128.88 311.48M140.39 308.83L132.44 304.61M144.00 302.17L136.13 297.81M147.73 295.59L139.95 291.08M151.59 289.07L143.89 284.42M155.56 282.63L147.95 277.83M159.66 276.26L152.13 271.32M163.87 269.97L156.44 264.89M168.20 263.76L160.86 258.55M181.11 246.57L174.06 240.97M185.87 240.68L178.93 234.96M190.74 234.88L183.90 229.03M195.72 229.18L188.99 223.20M200.80 223.56L194.18 217.46M205.98 218.05L199.48 211.82M211.27 212.63L204.88 206.28M216.65 207.31L210.39 200.85M222.14 202.09L215.99 195.51M252.11 176.68L246.63 169.54M258.16 172.12L252.81 164.88M264.29 167.68L259.07 160.34M270.50 163.35L265.42 155.92M290.88 150.30L286.26 142.58M297.41 146.47L292.93 138.67M304.01 142.76L299.68 134.88M310.68 139.18L306.49 131.21M317.41 135.72L313.38 127.68M324.21 132.38L320.32 124.27M343.18 123.88L339.71 115.58M350.20 121.03L346.88 112.66M357.26 118.31L354.10 109.88M364.37 115.71L361.37 107.23M371.53 113.26L368.69 104.72M394.27 106.42L391.93 97.73M401.60 104.52L399.42 95.78M408.96 102.75L406.94 93.98M416.35 101.12L414.50 92.32M423.77 99.63L422.09 90.79M431.22 98.28L429.70 89.41M438.70 97.07L437.34 88.17M446.19 96.00L445.00 87.08M453.70 95.06L452.68 86.12M477.64 93.03L477.14 84.04M485.20 92.68L484.87 83.68" stroke="#000" stroke-width="1.9" fill="none"/>
<g font-family="'Liberation Sans', Arial, Helvetica, sans-serif" font-size="16.9" fill="#000" stroke="#fff" stroke-width="0.22" class="tl">
<text transform="translate(519.99 79.37) rotate(-87.31)" dy="6.1">100</text>
<text transform="translate(527.79 79.81) rotate(-86.24)" dy="6.1">200</text>
<text transform="translate(535.59 80.39) rotate(-85.17)" dy="6.1">300</text>
<text transform="translate(543.38 81.12) rotate(-84.11)" dy="6.1">400</text>
<text transform="translate(551.15 82.00) rotate(-83.05)" dy="6.1">500</text>
<text transform="translate(558.91 83.02) rotate(-81.98)" dy="6.1">600</text>
<text transform="translate(566.64 84.18) rotate(-80.91)" dy="6.1">700</text>
<text transform="translate(574.36 85.49) rotate(-79.85)" dy="6.1">800</text>
<text transform="translate(582.04 86.94) rotate(-78.78)" dy="6.1">900</text>
<text transform="translate(589.70 88.53) rotate(-77.72)" dy="6.1">1000</text>
<text transform="translate(597.33 90.26) rotate(-76.66)" dy="6.1">1100</text>
<text transform="translate(604.92 92.14) rotate(-75.59)" dy="6.1">1200</text>
<text transform="translate(612.48 94.16) rotate(-74.53)" dy="6.1">1300</text>
<text transform="translate(620.00 96.31) rotate(-73.46)" dy="6.1">1400</text>
<text transform="translate(627.47 98.61) rotate(-72.39)" dy="6.1">1500</text>
<text transform="translate(634.91 101.04) rotate(-71.33)" dy="6.1">1600</text>
<text transform="translate(642.29 103.62) rotate(-70.27)" dy="6.1">1700</text>
<text transform="translate(649.63 106.33) rotate(-69.20)" dy="6.1">1800</text>
<text transform="translate(656.91 109.17) rotate(-68.14)" dy="6.1">1900</text>
<text transform="translate(664.15 112.15) rotate(-67.07)" dy="6.1">2000</text>
<text transform="translate(671.32 115.27) rotate(-66.00)" dy="6.1">2100</text>
<text transform="translate(678.44 118.51) rotate(-64.94)" dy="6.1">2200</text>
<text transform="translate(685.49 121.89) rotate(-63.88)" dy="6.1">2300</text>
<text transform="translate(692.48 125.40) rotate(-62.81)" dy="6.1">2400</text>
<text transform="translate(699.41 129.04) rotate(-61.75)" dy="6.1">2500</text>
<text transform="translate(706.26 132.81) rotate(-60.68)" dy="6.1">2600</text>
<text transform="translate(723.59 143.09) rotate(-57.94)" dy="6.1">100</text>
<text transform="translate(730.18 147.31) rotate(-56.87)" dy="6.1">200</text>
<text transform="translate(736.69 151.64) rotate(-55.80)" dy="6.1">300</text>
<text transform="translate(743.12 156.10) rotate(-54.74)" dy="6.1">400</text>
<text transform="translate(749.47 160.67) rotate(-53.67)" dy="6.1">500</text>
<text transform="translate(755.73 165.37) rotate(-52.61)" dy="6.1">600</text>
<text transform="translate(761.90 170.17) rotate(-51.55)" dy="6.1">700</text>
<text transform="translate(767.98 175.09) rotate(-50.48)" dy="6.1">800</text>
<text transform="translate(773.96 180.13) rotate(-49.41)" dy="6.1">900</text>
<text transform="translate(779.85 185.27) rotate(-48.35)" dy="6.1">1000</text>
<text transform="translate(785.65 190.52) rotate(-47.28)" dy="6.1">1100</text>
<text transform="translate(791.35 195.88) rotate(-46.22)" dy="6.1">1200</text>
<text transform="translate(796.94 201.35) rotate(-45.16)" dy="6.1">1300</text>
<text transform="translate(802.44 206.91) rotate(-44.09)" dy="6.1">1400</text>
<text transform="translate(807.83 212.58) rotate(-43.02)" dy="6.1">1500</text>
<text transform="translate(813.11 218.35) rotate(-41.96)" dy="6.1">1600</text>
<text transform="translate(818.29 224.21) rotate(-40.89)" dy="6.1">1700</text>
<text transform="translate(823.35 230.17) rotate(-39.83)" dy="6.1">1800</text>
<text transform="translate(828.31 236.23) rotate(-38.77)" dy="6.1">1900</text>
<text transform="translate(833.15 242.37) rotate(-37.70)" dy="6.1">2000</text>
<text transform="translate(837.87 248.60) rotate(-36.64)" dy="6.1">2100</text>
<text transform="translate(842.48 254.92) rotate(-35.57)" dy="6.1">2200</text>
<text transform="translate(846.97 261.33) rotate(-34.51)" dy="6.1">2300</text>
<text transform="translate(851.34 267.81) rotate(-33.44)" dy="6.1">2400</text>
<text transform="translate(865.77 291.31) rotate(-29.69)" dy="6.1">100</text>
<text transform="translate(869.58 298.14) rotate(-28.62)" dy="6.1">200</text>
<text transform="translate(880.69 319.97) rotate(-25.28)" dy="6.1">100</text>
<text transform="translate(883.96 327.07) rotate(-24.22)" dy="6.1">200</text>
<text transform="translate(887.10 334.23) rotate(-23.16)" dy="6.1">300</text>
<text transform="translate(890.11 341.45) rotate(-22.09)" dy="6.1">400</text>
<text transform="translate(892.98 348.73) rotate(-21.03)" dy="6.1">500</text>
<text transform="translate(895.72 356.05) rotate(-19.96)" dy="6.1">600</text>
<text transform="translate(898.32 363.43) rotate(-18.89)" dy="6.1">700</text>
<text transform="translate(900.79 370.85) rotate(-17.83)" dy="6.1">800</text>
<text transform="translate(903.11 378.32) rotate(-16.77)" dy="6.1">900</text>
<text transform="translate(905.30 385.83) rotate(-15.70)" dy="6.1">1000</text>
<text transform="translate(907.35 393.38) rotate(-14.64)" dy="6.1">1100</text>
<text transform="translate(909.25 400.97) rotate(-13.57)" dy="6.1">1200</text>
<text transform="translate(911.02 408.59) rotate(-12.50)" dy="6.1">1300</text>
<text transform="translate(912.64 416.24) rotate(-11.44)" dy="6.1">1400</text>
<text transform="translate(914.12 423.92) rotate(-10.38)" dy="6.1">1500</text>
<text transform="translate(915.46 431.62) rotate(-9.31)" dy="6.1">1600</text>
<text transform="translate(916.65 439.35) rotate(-8.25)" dy="6.1">1700</text>
<text transform="translate(917.70 447.11) rotate(-7.18)" dy="6.1">1800</text>
<text transform="translate(918.61 454.87) rotate(-6.12)" dy="6.1">1900</text>
<text transform="translate(919.37 462.66) rotate(-5.05)" dy="6.1">2000</text>
<text transform="translate(919.98 470.46) rotate(-3.98)" dy="6.1">2100</text>
<text transform="translate(920.45 478.26) rotate(-2.92)" dy="6.1">2200</text>
<text transform="translate(920.78 486.08) rotate(-1.86)" dy="6.1">2300</text>
<text transform="translate(920.96 493.90) rotate(-0.79)" dy="6.1">2400</text>
<text transform="translate(921.00 501.72) rotate(0.28)" dy="6.1">2500</text>
<text transform="translate(920.88 509.54) rotate(1.34)" dy="6.1">2600</text>
<text transform="translate(920.63 517.36) rotate(2.41)" dy="6.1">2700</text>
<text transform="translate(920.23 525.17) rotate(3.47)" dy="6.1">2800</text>
<text transform="translate(918.37 546.72) rotate(6.41)" dy="6.1">100</text>
<text transform="translate(917.42 554.48) rotate(7.48)" dy="6.1">200</text>
<text transform="translate(916.33 562.23) rotate(8.54)" dy="6.1">300</text>
<text transform="translate(915.09 569.95) rotate(9.61)" dy="6.1">400</text>
<text transform="translate(913.72 577.65) rotate(10.67)" dy="6.1">500</text>
<text transform="translate(912.20 585.32) rotate(11.74)" dy="6.1">600</text>
<text transform="translate(910.53 592.96) rotate(12.80)" dy="6.1">700</text>
<text transform="translate(908.73 600.57) rotate(13.87)" dy="6.1">800</text>
<text transform="translate(906.78 608.15) rotate(14.93)" dy="6.1">900</text>
<text transform="translate(901.16 627.39) rotate(17.66)" dy="6.1">100</text>
<text transform="translate(898.72 634.82) rotate(18.73)" dy="6.1">200</text>
<text transform="translate(896.14 642.21) rotate(19.79)" dy="6.1">300</text>
<text transform="translate(893.42 649.54) rotate(20.86)" dy="6.1">400</text>
<text transform="translate(890.56 656.82) rotate(21.92)" dy="6.1">500</text>
<text transform="translate(887.58 664.05) rotate(22.99)" dy="6.1">600</text>
<text transform="translate(884.46 671.22) rotate(24.05)" dy="6.1">700</text>
<text transform="translate(881.20 678.34) rotate(25.12)" dy="6.1">800</text>
<text transform="translate(877.81 685.39) rotate(26.18)" dy="6.1">900</text>
<text transform="translate(866.93 706.05) rotate(29.36)" dy="6.1">100</text>
<text transform="translate(863.03 712.83) rotate(30.43)" dy="6.1">200</text>
<text transform="translate(859.01 719.54) rotate(31.49)" dy="6.1">300</text>
<text transform="translate(854.86 726.17) rotate(32.56)" dy="6.1">400</text>
<text transform="translate(850.59 732.72) rotate(33.62)" dy="6.1">500</text>
<text transform="translate(846.20 739.19) rotate(34.69)" dy="6.1">600</text>
<text transform="translate(841.69 745.58) rotate(35.75)" dy="6.1">700</text>
<text transform="translate(837.06 751.89) rotate(36.82)" dy="6.1">800</text>
<text transform="translate(832.31 758.10) rotate(37.88)" dy="6.1">900</text>
<text transform="translate(827.45 764.23) rotate(38.95)" dy="6.1">1000</text>
<text transform="translate(822.48 770.27) rotate(40.01)" dy="6.1">1100</text>
<text transform="translate(807.63 787.03) rotate(43.06)" dy="6.1">100</text>
<text transform="translate(802.23 792.70) rotate(44.13)" dy="6.1">200</text>
<text transform="translate(796.74 798.26) rotate(45.19)" dy="6.1">300</text>
<text transform="translate(791.14 803.72) rotate(46.26)" dy="6.1">400</text>
<text transform="translate(785.43 809.08) rotate(47.32)" dy="6.1">500</text>
<text transform="translate(779.64 814.32) rotate(48.39)" dy="6.1">600</text>
<text transform="translate(773.74 819.46) rotate(49.46)" dy="6.1">700</text>
<text transform="translate(767.75 824.49) rotate(50.52)" dy="6.1">800</text>
<text transform="translate(761.67 829.41) rotate(51.59)" dy="6.1">900</text>
<text transform="translate(745.07 841.92) rotate(54.41)" dy="6.1">100</text>
<text transform="translate(738.66 846.41) rotate(55.48)" dy="6.1">200</text>
<text transform="translate(732.18 850.78) rotate(56.54)" dy="6.1">300</text>
<text transform="translate(725.61 855.03) rotate(57.61)" dy="6.1">400</text>
<text transform="translate(718.97 859.16) rotate(58.67)" dy="6.1">500</text>
<text transform="translate(712.25 863.16) rotate(59.74)" dy="6.1">600</text>
<text transform="translate(705.46 867.04) rotate(60.81)" dy="6.1">700</text>
<text transform="translate(698.60 870.80) rotate(61.87)" dy="6.1">800</text>
<text transform="translate(691.66 874.42) rotate(62.94)" dy="6.1">900</text>
<text transform="translate(672.26 883.72) rotate(65.87)" dy="6.1">100</text>
<text transform="translate(665.09 886.85) rotate(66.93)" dy="6.1">200</text>
<text transform="translate(657.87 889.85) rotate(68.00)" dy="6.1">300</text>
<text transform="translate(650.59 892.71) rotate(69.06)" dy="6.1">400</text>
<text transform="translate(643.26 895.44) rotate(70.12)" dy="6.1">500</text>
<text transform="translate(603.67 907.58) rotate(75.76)" dy="6.1">100</text>
<text transform="translate(596.08 909.43) rotate(76.83)" dy="6.1">200</text>
<text transform="translate(588.44 911.14) rotate(77.89)" dy="6.1">300</text>
<text transform="translate(580.78 912.71) rotate(78.96)" dy="6.1">400</text>
<text transform="translate(573.09 914.14) rotate(80.02)" dy="6.1">500</text>
<text transform="translate(565.37 915.42) rotate(81.09)" dy="6.1">600</text>
<text transform="translate(557.64 916.56) rotate(82.16)" dy="6.1">700</text>
<text transform="translate(533.11 919.21) rotate(85.51)" dy="6.1">100</text>
<text transform="translate(525.30 919.75) rotate(86.58)" dy="6.1">200</text>
<text transform="translate(517.49 920.14) rotate(87.64)" dy="6.1">300</text>
<text transform="translate(509.67 920.39) rotate(88.71)" dy="6.1">400</text>
<text transform="translate(501.85 920.50) rotate(89.77)" dy="6.1">500</text>
<text transform="translate(494.03 920.45) rotate(270.84)" dy="6.1" text-anchor="end">600</text>
<text transform="translate(486.21 920.27) rotate(271.90)" dy="6.1" text-anchor="end">700</text>
<text transform="translate(478.40 919.93) rotate(272.97)" dy="6.1" text-anchor="end">800</text>
<text transform="translate(470.59 919.46) rotate(274.03)" dy="6.1" text-anchor="end">900</text>
<text transform="translate(462.79 918.83) rotate(275.10)" dy="6.1" text-anchor="end">1000</text>
<text transform="translate(455.01 918.07) rotate(276.16)" dy="6.1" text-anchor="end">1100</text>
<text transform="translate(432.09 914.95) rotate(279.31)" dy="6.1" text-anchor="end">100</text>
<text transform="translate(424.38 913.61) rotate(280.38)" dy="6.1" text-anchor="end">200</text>
<text transform="translate(400.79 908.59) rotate(283.66)" dy="6.1" text-anchor="end">100</text>
<text transform="translate(393.21 906.67) rotate(284.73)" dy="6.1" text-anchor="end">200</text>
<text transform="translate(373.21 900.88) rotate(287.56)" dy="6.1" text-anchor="end">100</text>
<text transform="translate(365.77 898.45) rotate(288.63)" dy="6.1" text-anchor="end">200</text>
<text transform="translate(358.38 895.88) rotate(289.69)" dy="6.1" text-anchor="end">300</text>
<text transform="translate(351.05 893.18) rotate(290.76)" dy="6.1" text-anchor="end">400</text>
<text transform="translate(343.76 890.34) rotate(291.82)" dy="6.1" text-anchor="end">500</text>
<text transform="translate(336.52 887.36) rotate(292.89)" dy="6.1" text-anchor="end">600</text>
<text transform="translate(329.35 884.25) rotate(293.96)" dy="6.1" text-anchor="end">700</text>
<text transform="translate(322.23 881.01) rotate(295.02)" dy="6.1" text-anchor="end">800</text>
<text transform="translate(315.17 877.64) rotate(296.09)" dy="6.1" text-anchor="end">900</text>
<text transform="translate(308.18 874.13) rotate(297.15)" dy="6.1" text-anchor="end">1000</text>
<text transform="translate(301.25 870.50) rotate(298.22)" dy="6.1" text-anchor="end">1100</text>
<text transform="translate(294.40 866.74) rotate(299.28)" dy="6.1" text-anchor="end">1200</text>
<text transform="translate(287.61 862.85) rotate(300.35)" dy="6.1" text-anchor="end">1300</text>
<text transform="translate(267.55 850.34) rotate(303.56)" dy="6.1" text-anchor="end">100</text>
<text transform="translate(261.07 845.95) rotate(304.63)" dy="6.1" text-anchor="end">200</text>
<text transform="translate(254.68 841.45) rotate(305.69)" dy="6.1" text-anchor="end">300</text>
<text transform="translate(248.37 836.82) rotate(306.76)" dy="6.1" text-anchor="end">400</text>
<text transform="translate(242.14 832.08) rotate(307.82)" dy="6.1" text-anchor="end">500</text>
<text transform="translate(236.01 827.23) rotate(308.89)" dy="6.1" text-anchor="end">600</text>
<text transform="translate(229.97 822.26) rotate(309.96)" dy="6.1" text-anchor="end">700</text>
<text transform="translate(224.02 817.19) rotate(311.02)" dy="6.1" text-anchor="end">800</text>
<text transform="translate(218.17 812.00) rotate(312.09)" dy="6.1" text-anchor="end">900</text>
<text transform="translate(212.41 806.70) rotate(313.15)" dy="6.1" text-anchor="end">1000</text>
<text transform="translate(206.75 801.30) rotate(314.22)" dy="6.1" text-anchor="end">1100</text>
<text transform="translate(201.20 795.79) rotate(315.28)" dy="6.1" text-anchor="end">1200</text>
<text transform="translate(195.75 790.18) rotate(316.35)" dy="6.1" text-anchor="end">1300</text>
<text transform="translate(190.40 784.48) rotate(317.41)" dy="6.1" text-anchor="end">1400</text>
<text transform="translate(185.16 778.67) rotate(318.48)" dy="6.1" text-anchor="end">1500</text>
<text transform="translate(180.03 772.76) rotate(319.54)" dy="6.1" text-anchor="end">1600</text>
<text transform="translate(175.01 766.77) rotate(320.61)" dy="6.1" text-anchor="end">1700</text>
<text transform="translate(170.10 760.68) rotate(321.67)" dy="6.1" text-anchor="end">1800</text>
<text transform="translate(154.39 739.46) rotate(325.26)" dy="6.1" text-anchor="end">100</text>
<text transform="translate(142.70 721.66) rotate(328.16)" dy="6.1" text-anchor="end">100</text>
<text transform="translate(138.64 714.98) rotate(329.23)" dy="6.1" text-anchor="end">200</text>
<text transform="translate(134.70 708.22) rotate(330.29)" dy="6.1" text-anchor="end">300</text>
<text transform="translate(130.89 701.39) rotate(331.36)" dy="6.1" text-anchor="end">400</text>
<text transform="translate(127.20 694.49) rotate(332.42)" dy="6.1" text-anchor="end">500</text>
<text transform="translate(123.64 687.53) rotate(333.49)" dy="6.1" text-anchor="end">600</text>
<text transform="translate(120.22 680.49) rotate(334.56)" dy="6.1" text-anchor="end">700</text>
<text transform="translate(116.92 673.40) rotate(335.62)" dy="6.1" text-anchor="end">800</text>
<text transform="translate(113.76 666.25) rotate(336.69)" dy="6.1" text-anchor="end">900</text>
<text transform="translate(104.12 641.79) rotate(340.26)" dy="6.1" text-anchor="end">100</text>
<text transform="translate(101.54 634.41) rotate(341.33)" dy="6.1" text-anchor="end">200</text>
<text transform="translate(99.11 626.97) rotate(342.39)" dy="6.1" text-anchor="end">300</text>
<text transform="translate(96.81 619.50) rotate(343.46)" dy="6.1" text-anchor="end">400</text>
<text transform="translate(94.66 611.98) rotate(344.52)" dy="6.1" text-anchor="end">500</text>
<text transform="translate(88.50 586.72) rotate(348.06)" dy="6.1" text-anchor="end">100</text>
<text transform="translate(86.95 579.05) rotate(349.13)" dy="6.1" text-anchor="end">200</text>
<text transform="translate(85.55 571.36) rotate(350.19)" dy="6.1" text-anchor="end">300</text>
<text transform="translate(84.29 563.64) rotate(351.26)" dy="6.1" text-anchor="end">400</text>
<text transform="translate(83.17 555.90) rotate(352.32)" dy="6.1" text-anchor="end">500</text>
<text transform="translate(82.20 548.14) rotate(353.39)" dy="6.1" text-anchor="end">600</text>
<text transform="translate(80.07 523.45) rotate(356.76)" dy="6.1" text-anchor="end">100</text>
<text transform="translate(79.70 515.63) rotate(357.83)" dy="6.1" text-anchor="end">200</text>
<text transform="translate(79.48 507.81) rotate(358.89)" dy="6.1" text-anchor="end">300</text>
<text transform="translate(79.40 499.99) rotate(359.96)" dy="6.1" text-anchor="end">400</text>
<text transform="translate(79.47 492.17) rotate(361.02)" dy="6.1" text-anchor="end">500</text>
<text transform="translate(80.85 464.74) rotate(364.76)" dy="6.1" text-anchor="end">100</text>
<text transform="translate(81.58 456.96) rotate(365.83)" dy="6.1" text-anchor="end">200</text>
<text transform="translate(82.44 449.18) rotate(366.89)" dy="6.1" text-anchor="end">300</text>
<text transform="translate(83.45 441.43) rotate(367.96)" dy="6.1" text-anchor="end">400</text>
<text transform="translate(84.61 433.69) rotate(369.02)" dy="6.1" text-anchor="end">500</text>
<text transform="translate(85.91 425.98) rotate(370.09)" dy="6.1" text-anchor="end">600</text>
<text transform="translate(87.35 418.29) rotate(371.15)" dy="6.1" text-anchor="end">700</text>
<text transform="translate(92.83 394.23) rotate(374.51)" dy="6.1" text-anchor="end">100</text>
<text transform="translate(94.86 386.68) rotate(375.58)" dy="6.1" text-anchor="end">200</text>
<text transform="translate(97.03 379.17) rotate(376.64)" dy="6.1" text-anchor="end">300</text>
<text transform="translate(103.21 360.17) rotate(379.37)" dy="6.1" text-anchor="end">100</text>
<text transform="translate(105.87 352.81) rotate(380.43)" dy="6.1" text-anchor="end">200</text>
<text transform="translate(108.67 345.51) rotate(381.50)" dy="6.1" text-anchor="end">300</text>
<text transform="translate(111.60 338.26) rotate(382.56)" dy="6.1" text-anchor="end">400</text>
<text transform="translate(114.67 331.06) rotate(383.62)" dy="6.1" text-anchor="end">500</text>
<text transform="translate(117.87 323.93) rotate(384.69)" dy="6.1" text-anchor="end">600</text>
<text transform="translate(121.20 316.85) rotate(385.75)" dy="6.1" text-anchor="end">700</text>
<text transform="translate(124.67 309.84) rotate(386.82)" dy="6.1" text-anchor="end">800</text>
<text transform="translate(128.26 302.89) rotate(387.88)" dy="6.1" text-anchor="end">900</text>
<text transform="translate(131.98 296.01) rotate(388.95)" dy="6.1" text-anchor="end">1000</text>
<text transform="translate(135.83 289.20) rotate(390.01)" dy="6.1" text-anchor="end">1100</text>
<text transform="translate(139.81 282.47) rotate(391.08)" dy="6.1" text-anchor="end">1200</text>
<text transform="translate(143.91 275.81) rotate(392.14)" dy="6.1" text-anchor="end">1300</text>
<text transform="translate(148.13 269.22) rotate(393.21)" dy="6.1" text-anchor="end">1400</text>
<text transform="translate(152.47 262.72) rotate(394.28)" dy="6.1" text-anchor="end">1500</text>
<text transform="translate(156.94 256.30) rotate(395.34)" dy="6.1" text-anchor="end">1600</text>
<text transform="translate(170.26 238.52) rotate(398.37)" dy="6.1" text-anchor="end">100</text>
<text transform="translate(175.17 232.44) rotate(399.43)" dy="6.1" text-anchor="end">200</text>
<text transform="translate(180.20 226.44) rotate(400.50)" dy="6.1" text-anchor="end">300</text>
<text transform="translate(185.33 220.54) rotate(401.56)" dy="6.1" text-anchor="end">400</text>
<text transform="translate(190.57 214.74) rotate(402.62)" dy="6.1" text-anchor="end">500</text>
<text transform="translate(195.92 209.03) rotate(403.69)" dy="6.1" text-anchor="end">600</text>
<text transform="translate(201.38 203.42) rotate(404.75)" dy="6.1" text-anchor="end">700</text>
<text transform="translate(206.94 197.92) rotate(405.82)" dy="6.1" text-anchor="end">800</text>
<text transform="translate(212.60 192.52) rotate(406.88)" dy="6.1" text-anchor="end">900</text>
<text transform="translate(243.54 166.24) rotate(412.42)" dy="6.1" text-anchor="end">100</text>
<text transform="translate(249.78 161.52) rotate(413.48)" dy="6.1" text-anchor="end">200</text>
<text transform="translate(256.11 156.93) rotate(414.55)" dy="6.1" text-anchor="end">300</text>
<text transform="translate(262.52 152.45) rotate(415.61)" dy="6.1" text-anchor="end">400</text>
<text transform="translate(283.57 138.95) rotate(419.01)" dy="6.1" text-anchor="end">100</text>
<text transform="translate(290.31 134.98) rotate(420.08)" dy="6.1" text-anchor="end">200</text>
<text transform="translate(297.12 131.14) rotate(421.14)" dy="6.1" text-anchor="end">300</text>
<text transform="translate(304.01 127.43) rotate(422.21)" dy="6.1" text-anchor="end">400</text>
<text transform="translate(310.96 123.85) rotate(423.27)" dy="6.1" text-anchor="end">500</text>
<text transform="translate(317.98 120.40) rotate(424.34)" dy="6.1" text-anchor="end">600</text>
<text transform="translate(337.57 111.60) rotate(427.26)" dy="6.1" text-anchor="end">100</text>
<text transform="translate(344.82 108.64) rotate(428.33)" dy="6.1" text-anchor="end">200</text>
<text transform="translate(352.11 105.82) rotate(429.39)" dy="6.1" text-anchor="end">300</text>
<text transform="translate(359.46 103.13) rotate(430.46)" dy="6.1" text-anchor="end">400</text>
<text transform="translate(366.85 100.59) rotate(431.52)" dy="6.1" text-anchor="end">500</text>
<text transform="translate(390.33 93.50) rotate(434.87)" dy="6.1" text-anchor="end">100</text>
<text transform="translate(397.90 91.52) rotate(435.93)" dy="6.1" text-anchor="end">200</text>
<text transform="translate(405.50 89.69) rotate(437.00)" dy="6.1" text-anchor="end">300</text>
<text transform="translate(413.14 88.00) rotate(438.06)" dy="6.1" text-anchor="end">400</text>
<text transform="translate(420.81 86.46) rotate(439.12)" dy="6.1" text-anchor="end">500</text>
<text transform="translate(428.50 85.05) rotate(440.19)" dy="6.1" text-anchor="end">600</text>
<text transform="translate(436.22 83.79) rotate(441.25)" dy="6.1" text-anchor="end">700</text>
<text transform="translate(443.96 82.67) rotate(442.32)" dy="6.1" text-anchor="end">800</text>
<text transform="translate(451.73 81.70) rotate(443.38)" dy="6.1" text-anchor="end">900</text>
<text transform="translate(476.45 79.57) rotate(446.76)" dy="6.1" text-anchor="end">100</text>
<text transform="translate(484.27 79.20) rotate(447.83)" dy="6.1" text-anchor="end">200</text>
</g>
<g font-family="'Liberation Sans', Arial, Helvetica, sans-serif" font-size="11.0" fill="#383838" stroke="#fff" stroke-width="0.15" class="tl">
<text x="461.29 468.54 476.40 483.05 491.55 497.61 503.68 509.74 515.80 521.86 527.92 533.97" y="42.24 41.68 41.20 40.90 40.67 40.60 40.60 40.69 40.86 41.10 41.43 41.83" rotate="355.6 356.5 357.4 358.4 359.3 0.1 0.8 1.6 2.3 3.1 3.8 4.6">PRFG01000815</text>
<text x="567.17 573.76 579.13 586.87 595.79 601.71 607.62 613.50 621.12 626.97 630.45 636.25 642.03 647.78 655.22 660.92 666.58 671.65" y="45.50 46.52 47.42 48.83 50.65 51.95 53.33 54.78 56.80 58.44 59.45 61.21 63.05 64.95 67.55 69.64 71.80 73.81" rotate="8.8 9.6 10.4 11.5 12.4 13.2 13.9 14.8 15.7 16.3 16.9 17.6 18.4 19.2 20.1 20.9 21.6 22.3">TcDm25_Chr30_H2_c1</text>
<text x="777.77 783.05 787.32 793.42 800.36 804.92 809.43 813.88 819.59 823.92 826.48 830.72 834.90 839.02 844.29 848.27 852.20 855.67" y="133.99 138.07 141.44 146.41 152.30 156.29 160.35 164.45 169.89 174.15 176.71 181.05 185.44 189.88 195.75 200.32 204.95 209.15" rotate="37.6 38.4 39.2 40.3 41.2 42.0 42.7 43.6 44.5 45.1 45.7 46.4 47.2 48.1 48.9 49.7 50.4 51.1">TcDm25_Chr30_H1_c1</text>
<text x="869.37 873.29 876.45 880.91 885.91 889.16 892.35 895.47 899.42 902.38 904.12 906.96 909.74 912.45 915.85 918.39 920.86 923.01" y="226.76 232.15 236.59 243.07 250.68 255.79 260.95 266.14 272.97 278.27 281.45 286.80 292.19 297.61 304.72 310.23 315.77 320.78" rotate="53.9 54.7 55.5 56.6 57.5 58.3 59.0 59.9 60.8 61.4 62.0 62.8 63.5 64.4 65.3 66.0 66.7 67.4">TcDm25_Chr22_H1_c2</text>
<text x="935.77 937.83 939.45 941.68 944.08 945.59 947.03 948.39 950.02 951.19 951.86 952.91 953.88 954.78 955.81 956.52 957.14 957.64" y="354.58 360.92 366.12 373.66 382.44 388.31 394.21 400.11 407.82 413.78 417.34 423.31 429.30 435.29 443.11 449.13 455.16 460.59" rotate="72.0 72.7 73.6 74.6 75.6 76.3 77.1 78.0 78.8 79.4 80.0 80.8 81.6 82.4 83.3 84.1 84.8 85.5">TcDm25_Chr04_H1_c1</text>
<text x="944.08 946.04 947.59 949.71 951.97 953.38 954.72 955.98 957.49 958.55 959.16 960.11 960.97 961.76 962.64 963.24 963.75 964.14" y="637.96 631.48 626.14 618.41 609.47 603.46 597.44 591.40 583.54 577.47 573.82 567.72 561.62 555.49 547.54 541.40 535.26 529.72" rotate="286.9 286.1 285.3 284.2 283.3 282.5 281.8 280.9 280.0 279.4 278.8 278.0 277.3 276.4 275.5 274.8 274.0 273.3">TcDm25_Chr31_H2_c1</text>
<text x="911.93 915.03 917.51 920.99 924.82 927.29 929.69 932.02 934.92 937.06 938.32 940.34 942.29 944.17 946.47" y="715.62 709.60 704.63 697.41 689.02 683.37 677.68 671.97 664.51 658.73 655.25 649.42 643.57 637.69 630.02" rotate="297.3 296.5 295.7 294.6 293.7 292.9 292.1 291.3 290.4 289.8 289.2 288.4 287.6 286.8 285.9">TcDm25_Chr14_H1</text>
<text x="854.52 858.86 862.38 867.35 872.93 876.58 880.17 883.70 888.16 891.52 893.51 896.76 899.95 903.07 907.00" y="800.70 795.51 791.21 784.92 777.57 772.60 767.59 762.52 755.88 750.71 747.59 742.35 737.07 731.74 724.77" rotate="309.9 309.2 308.3 307.3 306.3 305.6 304.8 303.9 303.1 302.5 301.8 301.1 300.3 299.5 298.6">TcDm25_Chr10_H1</text>
<text x="772.97 778.42 782.86 789.18 796.35 801.08 805.75 810.38 816.29 820.78 823.45 827.86 832.20 836.50 841.97 846.12 850.21 853.84" y="876.18 872.17 868.82 863.90 858.08 854.12 850.10 846.01 840.62 836.40 833.84 829.52 825.15 820.71 814.87 810.31 805.69 801.50" rotate="323.7 322.9 322.1 321.0 320.1 319.3 318.5 317.7 316.8 316.2 315.6 314.8 314.1 313.2 312.3 311.5 310.8 310.1">TcDm25_Chr15_H2_c1</text>
<text x="700.91 706.99 711.96 719.06 727.16 732.52 737.84 743.13 749.91 755.08 758.17 763.28 768.34 773.37 779.80" y="919.06 916.09 913.59 909.89 905.45 902.40 899.29 896.10 891.85 888.51 886.47 883.01 879.49 875.90 871.14" rotate="334.0 333.3 332.4 331.4 330.4 329.6 328.9 328.0 327.1 326.5 325.9 325.2 324.4 323.5 322.7">TcDm25_Chr15_H1</text>
<text x="628.55 635.04 640.35 647.98 656.69 662.49 668.25 674.00 681.39 687.04 690.43 696.04 701.62 707.17 714.30" y="946.54 944.62 942.99 940.51 937.48 935.37 933.17 930.91 927.85 925.41 923.91 921.35 918.71 916.01 912.38" rotate="343.6 342.8 342.0 340.9 340.0 339.2 338.4 337.6 336.7 336.1 335.5 334.7 333.9 333.1 332.2">TcDm25_Chr23_H2</text>
<text x="580.32 586.99 592.44 600.28 609.27 615.26 621.22 627.18 634.85 640.73 644.26 650.11 655.94 661.74 669.22 674.95 680.65 685.75" y="957.66 956.44 955.37 953.72 951.63 950.15 948.58 946.94 944.68 942.85 941.73 939.78 937.75 935.65 932.80 930.52 928.16 925.98" rotate="349.7 348.9 348.1 347.0 346.1 345.3 344.5 343.7 342.8 342.2 341.6 340.8 340.1 339.2 338.3 337.5 336.8 336.1">TcDm25_Chr31_H2_c3</text>
<text x="541.33 548.07 553.60 561.55 570.69 576.78 582.85 588.92 596.76 602.78 606.39 612.38 618.36 624.32 632.01" y="962.79 962.14 961.54 960.56 959.24 958.26 957.20 956.07 954.47 953.15 952.32 950.87 949.34 947.74 945.53" rotate="354.5 353.8 352.9 351.9 350.9 350.1 349.4 348.5 347.6 347.0 346.4 345.7 344.9 344.0 343.2">TcDm25_Chr23_H1</text>
<text x="445.97 452.70 458.23 466.22 475.43 481.59 487.75 493.93 501.93 508.08 511.79 517.95 524.11 530.28 538.26" y="961.44 962.17 962.72 963.38 963.95 964.24 964.44 964.57 964.61 964.54 964.47 964.27 963.99 963.64 963.05" rotate="6.3 5.5 4.7 3.6 2.7 1.9 1.2 0.3 359.4 358.8 358.2 357.4 356.7 355.8 354.9">TcDm25_Chr12_H1</text>
<text x="365.43 371.93 377.27 385.02 393.99 400.00 406.03 412.09 419.96 426.03 429.69 435.79 441.90 448.03 455.99 462.14 468.29 473.82" y="944.65 946.56 948.07 950.13 952.31 953.68 954.97 956.19 957.63 958.65 959.23 960.13 960.94 961.68 962.50 963.05 963.51 963.86" rotate="16.4 15.7 14.8 13.8 12.8 12.1 11.3 10.4 9.6 9.0 8.3 7.6 6.8 6.0 5.1 4.3 3.6 2.9">TcDm25_Chr04_H2_c2</text>
<text x="333.39 339.73 344.96 352.53 361.32 367.21 373.14 379.09 386.83 392.81 396.42 402.44 408.48 414.54 422.42 428.51 434.60 440.10" y="933.66 936.04 937.93 940.55 943.38 945.18 946.91 948.56 950.58 952.03 952.88 954.22 955.47 956.66 958.06 959.05 959.96 960.71" rotate="20.6 19.9 19.0 18.0 17.0 16.2 15.5 14.6 13.7 13.1 12.5 11.8 11.0 10.1 9.3 8.5 7.8 7.1">TcDm25_Chr30_H2_c2</text>
<text x="268.80 274.71 279.58 286.66 294.91 300.46 306.04 311.67 319.01 324.70 328.14 333.88 339.66 345.46 353.03" y="902.94 906.26 908.93 912.68 916.83 919.51 922.13 924.68 927.85 930.21 931.60 933.84 936.01 938.11 940.70" rotate="29.4 28.7 27.8 26.8 25.8 25.1 24.3 23.4 22.6 22.0 21.3 20.6 19.8 19.0 18.1">TcDm25_Chr09_H1</text>
<text x="151.60 156.12 159.88 165.39 171.86 176.26 180.71 185.22 191.16 195.79 198.59 203.31 208.09 212.91 219.25" y="807.31 812.35 816.45 822.27 828.84 833.17 837.44 841.66 847.02 851.08 853.50 857.47 861.38 865.23 870.12" rotate="48.2 47.4 46.6 45.5 44.6 43.8 43.0 42.2 41.3 40.7 40.1 39.3 38.5 37.7 36.8">TcDm25_Chr03_H1</text>
<text x="89.61 92.83 95.53 99.53 104.30 107.57 110.91 114.31 118.84 122.40 124.56 128.23 131.96 135.76 140.79 144.73 148.74 152.39" y="717.78 723.73 728.59 735.53 743.43 748.66 753.85 759.00 765.60 770.63 773.63 778.59 783.50 788.37 794.60 799.34 804.03 808.20" rotate="61.6 60.9 60.0 59.0 58.0 57.2 56.5 55.6 54.7 54.1 53.5 52.8 52.0 51.1 50.3 49.5 48.8 48.1">TcDm25_Chr31_H2_c2</text>
<text x="68.01 70.56 72.70 75.91 79.78 82.45 85.19 88.01 91.78 94.76 96.58 99.67 102.84 106.08 110.39" y="671.04 677.32 682.44 689.79 698.17 703.73 709.25 714.75 721.81 727.19 730.42 735.75 741.05 746.31 753.05" rotate="68.0 67.2 66.4 65.3 64.4 63.6 62.8 62.0 61.1 60.5 59.9 59.1 58.3 57.5 56.6">TcDm25_Chr09_H2</text>
<text x="44.74 46.16 47.37 49.25 51.60 53.26 54.99 56.81 59.28 61.28 62.51 64.63 66.82 69.09 72.16" y="592.99 599.62 605.04 612.83 621.75 627.69 633.61 639.52 647.12 652.95 656.44 662.24 668.00 673.74 681.14" rotate="78.0 77.3 76.4 75.4 74.4 73.6 72.9 72.0 71.1 70.5 69.9 69.2 68.4 67.5 66.7">TcDm25_Chr10_H2</text>
<text x="35.64 35.95 36.28 36.86 37.73 38.40 39.15 39.98 41.19 42.21 42.86 44.01 45.23 46.54 48.36 49.85 51.43 52.91" y="517.74 524.51 530.05 538.05 547.23 553.37 559.49 565.61 573.52 579.59 583.24 589.30 595.34 601.38 609.17 615.15 621.11 626.46" rotate="87.4 86.6 85.8 84.7 83.8 83.0 82.2 81.4 80.5 79.9 79.3 78.5 77.8 76.9 76.0 75.2 74.5 73.8">TcDm25_Chr04_H2_c1</text>
<text x="37.00 36.48 36.10 35.69 35.41 35.31 35.29 35.35 35.57 35.83 36.02 36.40 36.87 37.41 38.25" y="459.79 466.55 472.09 480.09 489.32 495.48 501.65 507.83 515.83 521.98 525.68 531.83 537.98 544.14 552.09" rotate="94.5 93.8 92.9 91.9 90.9 90.1 89.4 88.5 87.6 87.0 86.4 85.7 84.9 84.0 83.2">TcDm25_Chr26_H1</text>
<text x="41.30 41.56 41.82 42.33 43.11 43.72 44.40 45.16 46.29 47.24 47.84 48.92 50.07 51.30 53.02" y="485.72 479.05 473.62 465.76 456.70 450.66 444.64 438.63 430.83 424.83 421.26 415.29 409.33 403.40 395.71" rotate="272.2 272.9 273.8 274.8 275.8 276.5 277.3 278.1 279.0 279.6 280.2 281.0 281.7 282.6 283.5">TcDm25_Chr26_H2</text>
<text x="45.47 46.44 47.29 48.64 50.39 51.64 52.98 54.38 56.33 57.93 58.91 60.62 62.41 64.27 66.81 68.85 70.97 72.93" y="436.42 429.82 424.44 416.69 407.76 401.82 395.91 390.01 382.38 376.52 373.03 367.21 361.42 355.65 348.19 342.48 336.79 331.71" rotate="278.3 279.1 279.9 281.0 281.9 282.7 283.4 284.3 285.2 285.8 286.4 287.2 287.9 288.8 289.7 290.4 291.1 291.8">TcDm25_Chr12_H2_c1</text>
<text x="68.36 70.67 72.62 75.54 79.10 81.55 84.07 86.66 90.15 92.93 94.61 97.48 100.43 103.44 107.47 110.64 113.89 116.86" y="343.82 337.56 332.48 325.17 316.80 311.25 305.74 300.26 293.19 287.79 284.58 279.24 273.94 268.68 261.91 256.74 251.62 247.05" rotate="290.3 291.0 291.9 292.9 293.9 294.6 295.4 296.2 297.1 297.7 298.3 299.1 299.8 300.7 301.6 302.3 303.1 303.8">TcDm25_Chr31_H1_c1</text>
<text x="130.28 134.28 137.58 142.46 148.24 152.17 156.15 160.19 165.54 169.73 172.25 176.52 180.85 185.23 191.01" y="227.77 222.43 218.10 211.92 204.90 200.28 195.71 191.19 185.40 181.00 178.40 174.10 169.85 165.66 160.31" rotate="306.7 307.5 308.3 309.4 310.3 311.1 311.8 312.7 313.6 314.2 314.8 315.6 316.3 317.2 318.0">TcDm25_Chr12_H2</text>
<text x="160.08 164.60 168.33 173.81 180.28 184.66 189.09 193.57 199.48 204.11 206.88 211.57 216.31 221.09 227.40 232.30 237.25 241.73" y="191.32 186.41 182.45 176.80 170.41 166.21 162.07 157.99 152.78 148.84 146.51 142.66 138.88 135.16 130.43 126.86 123.35 120.26" rotate="312.6 313.4 314.2 315.3 316.2 317.0 317.7 318.6 319.5 320.1 320.7 321.4 322.2 323.1 323.9 324.7 325.4 326.1">TcDm25_Chr25_H2_c2</text>
<text x="192.22 197.20 201.31 207.32 214.39 219.16 223.98 228.84 235.25 240.23 243.22 248.27 253.36 258.49 265.23" y="159.21 154.78 151.20 146.12 140.40 136.66 132.97 129.36 124.76 121.29 119.25 115.89 112.59 109.36 105.28" rotate="318.3 319.0 319.9 320.9 321.9 322.6 323.4 324.3 325.1 325.7 326.3 327.1 327.9 328.7 329.6">TcDm25_Chr18_H1</text>
<text x="238.80 244.32 248.85 255.47 263.22 268.44 273.69 278.98 285.92 291.31 294.54 299.98 305.46 310.96 318.17" y="122.27 118.51 115.50 111.24 106.48 103.38 100.36 97.40 93.66 90.87 89.23 86.55 83.94 81.40 78.22" rotate="325.7 326.5 327.3 328.4 329.3 330.1 330.8 331.7 332.6 333.2 333.8 334.5 335.3 336.2 337.0">TcDm25_Chr25_H1</text>
<text x="293.88 299.86 304.77 311.91 320.25 325.85 331.47 337.12 344.51 350.25 353.67 359.43 365.22 371.01 378.60" y="89.56 86.61 84.26 80.96 77.32 74.98 72.72 70.52 67.79 65.78 64.60 62.70 60.88 59.13 56.99" rotate="333.7 334.5 335.3 336.4 337.3 338.1 338.8 339.7 340.6 341.2 341.8 342.5 343.3 344.2 345.0">TcDm25_Chr18_H2</text>
<text x="365.74 372.13 377.37 384.97 393.80 399.71 405.63 411.57 419.32 425.30 428.88 434.87 440.88 446.89 454.73" y="60.72 58.82 57.32 55.27 53.09 51.72 50.43 49.22 47.77 46.75 46.16 45.26 44.44 43.69 42.85" rotate="343.4 344.1 345.0 346.0 347.0 347.7 348.5 349.4 350.2 350.8 351.4 352.2 353.0 353.8 354.7">TcDm25_Chr25_H2</text>
<text x="428.54 435.13 440.53 448.34 457.39 463.43 469.48 475.52 483.40 489.47 493.09 499.16 505.22 511.28 519.16" y="46.21 45.23 44.48 43.52 42.59 42.06 41.62 41.25 40.90 40.72 40.64 40.59 40.62 40.72 40.98" rotate="351.4 352.2 353.0 354.1 355.0 355.8 356.5 357.4 358.3 358.9 359.5 0.3 1.0 1.9 2.7">TcDm25_Chr19_H1</text>
</g>
</svg></body></html>
